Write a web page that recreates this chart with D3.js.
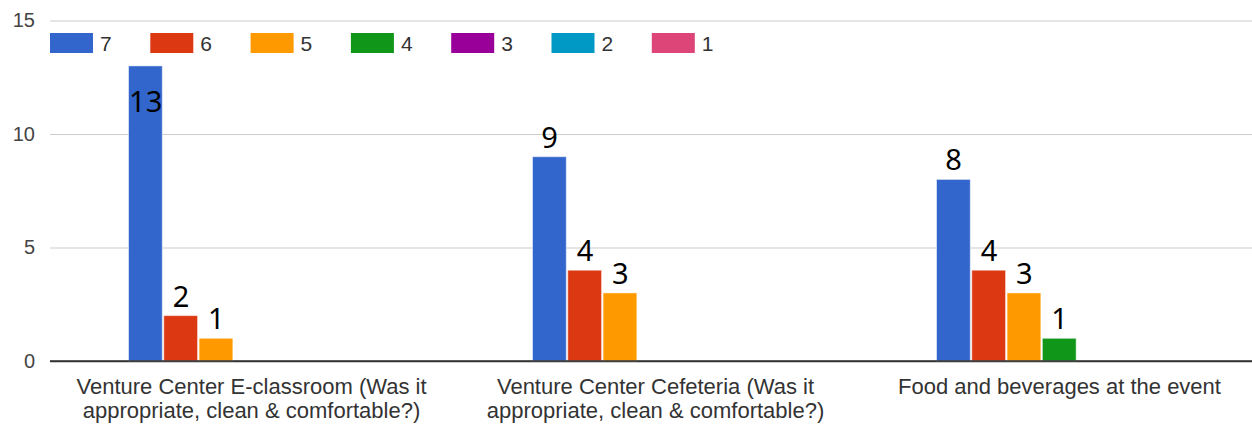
<!DOCTYPE html>
<html>
<head>
<meta charset="utf-8">
<script src="https://cdn.jsdelivr.net/npm/d3@7"></script>
<style>
  body { margin: 0; background: #fff; }
  svg { display: block; }
</style>
</head>
<body>
<div id="chart"></div>
<script>
// rating buckets (legend order) and the three survey questions
const series = ["7", "6", "5", "4", "3", "2", "1"];
const colors = ["#3366cc", "#dc3912", "#ff9900", "#109618", "#990099", "#0099c6", "#dd4477"];
const categories = [
  ["Venture Center E-classroom (Was it", "appropriate, clean & comfortable?)"],
  ["Venture Center Cefeteria (Was it", "appropriate, clean & comfortable?)"],
  ["Food and beverages at the event"]
];

// counts per rating, one entry per category
const count7 = [13, 9, 8];
const count6 = [2, 4, 4];
const count5 = [1, 3, 3];
const count4 = [0, 0, 1];
const count3 = [0, 0, 0];
const count2 = [0, 0, 0];
const count1 = [0, 0, 0];
const yTicks = [0, 5, 10, 15];

const width = 1252, height = 425;
const margin = {top: 20.5, right: 0, bottom: 64, left: 50};
const counts = [count7, count6, count5, count4, count3, count2, count1];

const svg = d3.select("#chart").append("svg")
  .attr("width", width)
  .attr("height", height);

const catKeys = categories.map(c => c.join(" "));

const x0 = d3.scaleBand()
  .domain(catKeys)
  .range([margin.left, margin.left + 3 * 404]);

const x1 = d3.scaleBand()
  .domain(series)
  .range([78, 325]);

const y = d3.scaleLinear()
  .domain([0, 15])
  .range([height - margin.bottom, margin.top]);

// gridlines + y tick labels
const yAxis = svg.append("g")
  .attr("transform", `translate(${margin.left},0)`)
  .call(d3.axisLeft(y).tickValues(yTicks).tickSize(-(width - margin.left)).tickPadding(15));
yAxis.select(".domain").remove();
yAxis.selectAll(".tick line")
  .attr("stroke", d => d === 0 ? "#333" : "#cccccc")
  .attr("stroke-width", d => d === 0 ? 1.5 : 1.2);
yAxis.selectAll(".tick text")
  .attr("fill", "#444")
  .attr("font-family", "Liberation Sans, Arial, sans-serif")
  .attr("font-size", 20);
yAxis.selectAll(".tick").filter(d => d === 0).raise();

// legend
const legend = svg.append("g")
  .selectAll("g")
  .data(series)
  .join("g")
    .attr("transform", (d, i) => `translate(${50 + i * 100.3},33)`);
legend.append("rect")
  .attr("width", 43)
  .attr("height", 20)
  .attr("fill", (d, i) => colors[i]);
legend.append("text")
  .attr("x", 50)
  .attr("y", 18)
  .attr("fill", "#333")
  .attr("font-family", "Liberation Sans, Arial, sans-serif")
  .attr("font-size", 21)
  .text(d => d);

// bars
const cells = [];
counts.forEach((arr, si) => arr.forEach((v, ci) => {
  cells.push({series: series[si], color: colors[si], cat: catKeys[ci], value: v});
}));

const bars = svg.append("g");
bars.selectAll("rect")
  .data(cells.filter(d => d.value > 0))
  .join("rect")
    .attr("x", d => x0(d.cat) + x1(d.series) + 0.5)
    .attr("y", d => y(d.value))
    .attr("width", x1.bandwidth() - 1.5)
    .attr("height", d => y(0) - y(d.value))
    .attr("fill", d => d.color)
    .attr("stroke", "#fff")
    .attr("stroke-opacity", 0.5)
    .attr("stroke-width", 1);

// re-draw baseline above bars
svg.append("line")
  .attr("x1", margin.left).attr("x2", width)
  .attr("y1", y(0)).attr("y2", y(0))
  .attr("stroke", "#333").attr("stroke-width", 1.5);

// value labels: above the bar, or inside when it would hit the legend
svg.append("g")
  .selectAll("text")
  .data(cells.filter(d => d.value > 0))
  .join("text")
    .attr("x", d => x0(d.cat) + x1(d.series) + x1.bandwidth() / 2)
    .attr("y", d => y(d.value) - 9 - 29 < 60 ? y(d.value) + 46 : y(d.value) - 9)
    .attr("text-anchor", "middle")
    .attr("fill", "#000")
    .attr("font-family", "Noto Sans, Open Sans, sans-serif")
    .attr("font-size", 29)
    .text(d => d.value);

// category labels
svg.append("g")
  .selectAll("text")
  .data(categories)
  .join("text")
    .attr("x", (d, i) => x0(catKeys[i]) + x1("7") + (x1.step() * 7) / 2)
    .attr("y", 394)
    .attr("text-anchor", "middle")
    .attr("fill", "#333")
    .attr("font-family", "Liberation Sans, Arial, sans-serif")
    .attr("font-size", 22)
    .selectAll("tspan")
    .data(d => d)
    .join("tspan")
      .attr("x", function() { return this.parentNode.getAttribute("x"); })
      .attr("dy", (d, i) => i === 0 ? 0 : 24)
      .text(d => d);
</script>
</body>
</html>
